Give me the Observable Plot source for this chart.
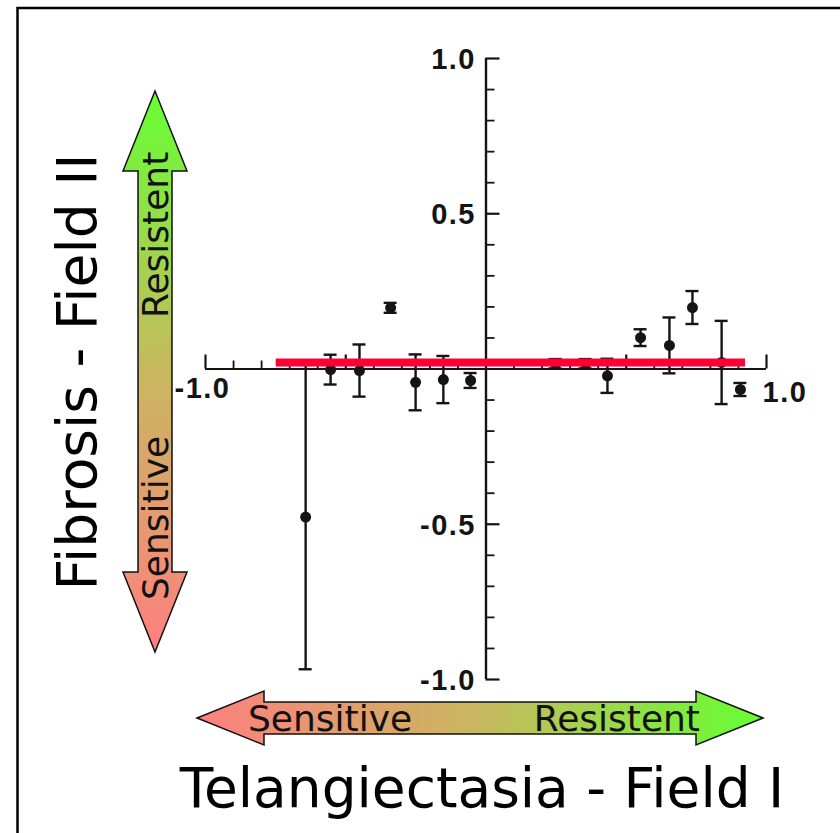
<!DOCTYPE html>
<html>
<head>
<meta charset="utf-8">
<script src="https://cdn.jsdelivr.net/npm/d3@7"></script>
<script src="https://cdn.jsdelivr.net/npm/@observablehq/plot@0.6"></script>
<style>
  html, body { margin: 0; padding: 0; background: #fff; }
  #chart { width: 840px; height: 833px; overflow: hidden; }
</style>
</head>
<body>
<div id="chart"></div>
<script>
// ---- data ----
const fieldI  = [-0.643, -0.554, -0.451, -0.340, -0.251, -0.152, -0.055, 0.248, 0.355, 0.433, 0.551, 0.654, 0.736, 0.840, 0.907];
const fieldII = [-0.477, -0.002, -0.005, 0.197, -0.043, -0.034, -0.037, 0.017, 0.017, -0.022, 0.101, 0.076, 0.198, 0.021, -0.066];
const errII   = [0.490, 0.048, 0.084, 0.016, 0.090, 0.076, 0.024, 0.015, 0.015, 0.055, 0.027, 0.090, 0.053, 0.134, 0.021];

const meanY = [0.021];
const meanFrom = [-0.748];
const meanTo = [0.925];

const xTickLabels = [-1, 1];
const yTickLabels = [1, 0.5, -0.5, -1];
const majorTicks = [-1, -0.5, 0.5, 1];
const minorTicks = [-0.9, -0.8, -0.7, -0.6, -0.4, -0.3, -0.2, -0.1, 0.1, 0.2, 0.3, 0.4, 0.6, 0.7, 0.8, 0.9];

const xTitle = "Telangiectasia - Field I";
const yTitle = "Fibrosis - Field II";
const sensitiveLabel = "Sensitive";
const resistentLabel = "Resistent";

// ---- build ----
const pts = fieldI.map((x, i) => ({x, y: fieldII[i], e: errII[i]}));
const mean = meanY.map((y, i) => ({y, x1: meanFrom[i], x2: meanTo[i]}));
const ink = "#141414";
const tickFont = "'Liberation Sans', Arial, sans-serif";
const tickStyle = {fontSize: 29, fontWeight: "bold", fontFamily: tickFont, fill: ink};

const chart = Plot.plot({
  width: 840,
  height: 833,
  marginLeft: 205,
  marginRight: 74,
  marginTop: 58,
  marginBottom: 154,
  x: {domain: [-1, 1], axis: null},
  y: {domain: [-1, 1], axis: null},
  style: {background: "transparent", overflow: "visible"},
  marks: [
    // axes crossing at the origin
    Plot.ruleY([0], {x1: -1, x2: 1, stroke: ink, strokeWidth: 2.2}),
    Plot.ruleX([0], {y1: -1, y2: 1, stroke: ink, strokeWidth: 2.4}),
    // x ticks (upwards)
    Plot.ruleX(minorTicks, {x: d => d, y1: 0, y2: 0, insetTop: -8, stroke: ink, strokeWidth: 1.8}),
    Plot.ruleX(majorTicks, {x: d => d, y1: 0, y2: 0, insetTop: -14, stroke: ink, strokeWidth: 2.2}),
    // y ticks (to the right)
    Plot.ruleY(minorTicks, {y: d => d, x1: 0, x2: 0, insetRight: -9, stroke: ink, strokeWidth: 1.8}),
    Plot.ruleY(majorTicks, {y: d => d, x1: 0, x2: 0, insetRight: -14, stroke: ink, strokeWidth: 2.2}),
    // tick labels
    Plot.text(yTickLabels, {x: 0, y: d => d, text: d => d.toFixed(1), textAnchor: "end", dx: -10, dy: 1, ...tickStyle}),
    Plot.text(xTickLabels.filter(d => d < 0), {x: d => d, y: 0, text: d => d.toFixed(1), textAnchor: "middle", dx: -3, dy: 20, ...tickStyle}),
    Plot.text(xTickLabels.filter(d => d > 0), {x: d => d, y: 0, text: d => d.toFixed(1), textAnchor: "start", dx: -4, dy: 24, ...tickStyle}),
    // error bars
    Plot.ruleX(pts, {x: "x", y1: d => d.y - d.e, y2: d => d.y + d.e, stroke: ink, strokeWidth: 2.4}),
    Plot.ruleY(pts, {y: d => d.y + d.e, x1: "x", x2: "x", insetLeft: -6.5, insetRight: -6.5, stroke: ink, strokeWidth: 2.4}),
    Plot.ruleY(pts, {y: d => d.y - d.e, x1: "x", x2: "x", insetLeft: -6.5, insetRight: -6.5, stroke: ink, strokeWidth: 2.4}),
    Plot.dot(pts, {x: "x", y: "y", r: 5.5, fill: ink, stroke: null}),
    // red reference line
    Plot.ruleY(mean, {y: "y", x1: "x1", x2: "x2", stroke: "#ff0033", strokeWidth: 8})
  ]
});

document.getElementById("chart").appendChild(chart);
// slightly wider tracking for the scanned tick labels
d3.select(chart).selectAll("text").attr("letter-spacing", "1.5px");

// ---- decorations (arrows, titles, border) ----
const svg = d3.select(chart);
const defs = svg.append("defs");
const gv = defs.append("linearGradient").attr("id", "gradV")
  .attr("gradientUnits", "userSpaceOnUse").attr("x1", 0).attr("y1", 91).attr("x2", 0).attr("y2", 652);
gv.append("stop").attr("offset", 0).attr("stop-color", "#66ff33");
gv.append("stop").attr("offset", 0.5).attr("stop-color", "#c8b85f");
gv.append("stop").attr("offset", 1).attr("stop-color", "#ff7f7f");
const gh = defs.append("linearGradient").attr("id", "gradH")
  .attr("gradientUnits", "userSpaceOnUse").attr("x1", 197).attr("y1", 0).attr("x2", 763).attr("y2", 0);
gh.append("stop").attr("offset", 0).attr("stop-color", "#ff7f7f");
gh.append("stop").attr("offset", 0.5).attr("stop-color", "#c8b85f");
gh.append("stop").attr("offset", 1).attr("stop-color", "#66ff33");

const deco = svg.append("g").attr("text-anchor", "start");

// vertical double arrow
{
  const cx = 155, top = 91, bot = 652, head = 80, hw = 32, sw = 17;
  const p = [[cx, top], [cx + hw, top + head], [cx + sw, top + head], [cx + sw, bot - head], [cx + hw, bot - head],
             [cx, bot], [cx - hw, bot - head], [cx - sw, bot - head], [cx - sw, top + head], [cx - hw, top + head]];
  deco.append("path").attr("d", "M" + p.join("L") + "Z")
    .attr("fill", "url(#gradV)").attr("stroke", "#111").attr("stroke-width", 1.5).attr("stroke-linejoin", "miter");
}
// horizontal double arrow
{
  const cy = 718, left = 197, right = 763, head = 67, hh = 27, sh = 16;
  const p = [[left, cy], [left + head, cy - hh], [left + head, cy - sh], [right - head, cy - sh], [right - head, cy - hh],
             [right, cy], [right - head, cy + hh], [right - head, cy + sh], [left + head, cy + sh], [left + head, cy + hh]];
  deco.append("path").attr("d", "M" + p.join("L") + "Z")
    .attr("fill", "url(#gradH)").attr("stroke", "#111").attr("stroke-width", 1.5).attr("stroke-linejoin", "miter");
}

const labelFont = "'DejaVu Sans', Verdana, sans-serif";
// arrow labels
deco.append("text").attr("transform", "translate(168,318) rotate(-90)").attr("text-anchor", "start")
  .attr("font-family", labelFont).attr("font-size", 36).attr("fill", "#111").text(resistentLabel);
deco.append("text").attr("transform", "translate(168,600) rotate(-90)").attr("text-anchor", "start")
  .attr("font-family", labelFont).attr("font-size", 36).attr("fill", "#111").text(sensitiveLabel);
deco.append("text").attr("x", 248).attr("y", 731).attr("text-anchor", "start")
  .attr("font-family", labelFont).attr("font-size", 36).attr("fill", "#111").text(sensitiveLabel);
deco.append("text").attr("x", 700).attr("y", 731).attr("text-anchor", "end")
  .attr("font-family", labelFont).attr("font-size", 36).attr("fill", "#111").text(resistentLabel);

// axis titles
deco.append("text").attr("transform", "translate(96,372) rotate(-90)").attr("text-anchor", "middle")
  .attr("font-family", labelFont).attr("font-size", 55).attr("fill", "#000").text(yTitle);
deco.append("text").attr("x", 482).attr("y", 807).attr("text-anchor", "middle")
  .attr("font-family", labelFont).attr("font-size", 55).attr("fill", "#000").text(xTitle);

// frame (top and left edges)
deco.append("path").attr("d", "M17.5,833V8H840").attr("fill", "none").attr("stroke", "#000").attr("stroke-width", 2.5);
</script>
</body>
</html>
